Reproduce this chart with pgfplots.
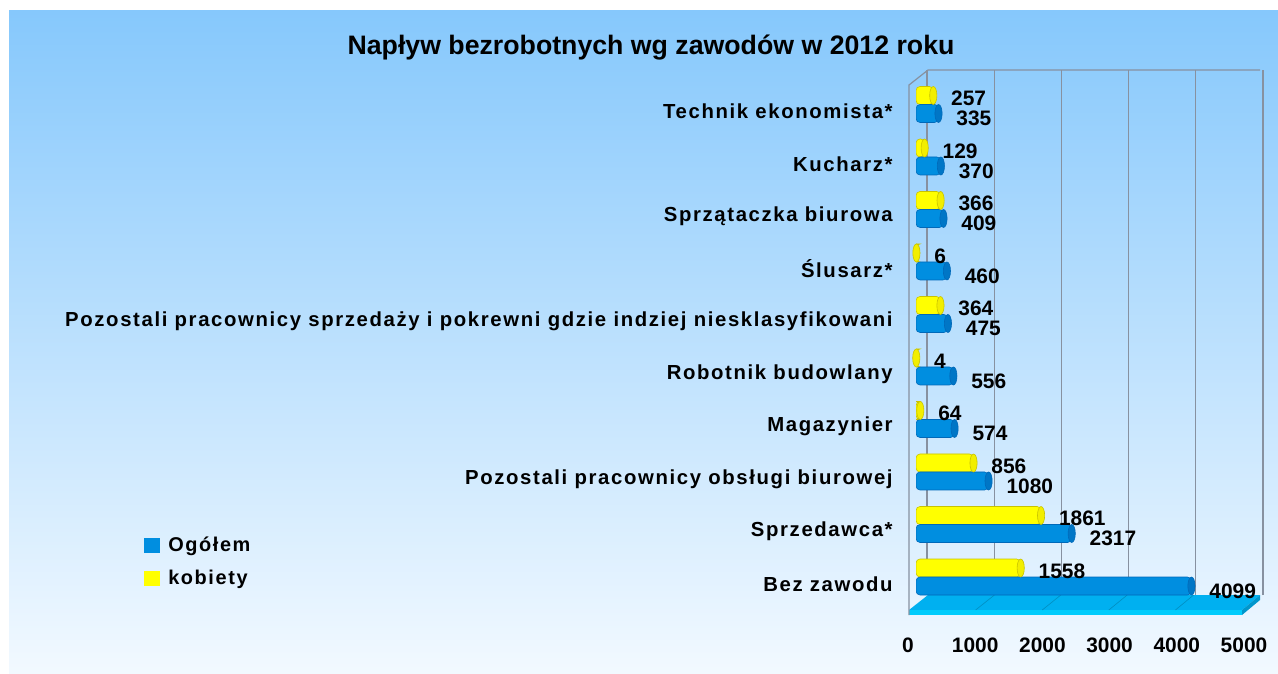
\documentclass[border=0pt]{standalone}
\usepackage{pgfplots}
\pgfplotsset{compat=1.18}
\usepackage{pgfplotstable}
\usepackage{fontspec}
\setmainfont{Liberation Sans}
\newfontfamily\spaced[LetterSpace=8]{Liberation Sans}

\definecolor{bgtop}{RGB}{134,200,252}
\definecolor{bgbot}{RGB}{242,249,255}
\definecolor{barblue}{RGB}{0,142,224}
\definecolor{bluebot}{RGB}{0,105,185}
\definecolor{capblue}{RGB}{0,118,198}
\definecolor{baryellow}{RGB}{255,255,0}
\definecolor{yellowbot}{RGB}{200,195,0}
\definecolor{capyellow}{RGB}{242,238,0}
\definecolor{gridgray}{RGB}{135,145,160}
\definecolor{floortop}{RGB}{0,176,240}
\definecolor{floorfront}{RGB}{0,204,252}

% pozycja 0 = dol wykresu
\pgfplotstableread{
pos ogolem kobiety
0 4099 1558
1 2317 1861
2 1080 856
3 574 64
4 556 4
5 475 364
6 460 6
7 409 366
8 370 129
9 335 257
}\dane

\begin{document}
\begin{tikzpicture}[x=1bp,y=1bp]
\useasboundingbox (0,0) rectangle (639,336.5);
\shade[top color=bgtop, bottom color=bgbot] (4.5,0) rectangle (639,331);

% podloga 3D
\fill[floortop] (454.5,31.5) -- (464,39) -- (630,39) -- (621,31.5) -- cycle;
\fill[floorfront] (454.5,31.5) rectangle (621,29);
\fill[floortop!85!black] (621,31.5) -- (630,39) -- (630,36.5) -- (621,29) -- cycle;
\foreach \k in {1,...,4}
  \draw[floortop!80!black, line width=0.3bp] (454.5+33.3*\k,31.5) -- (464+33.2*\k,39);
\draw[gridgray, line width=0.6bp] (454.5,29) -- (454.5,294) -- (464,301.5) -- (630,301.5);

\node[font=\bfseries\fontsize{13.4}{16}\selectfont] at (325.5,312.5)
  {Napływ bezrobotnych wg zawodów w 2012 roku};

\begin{axis}[
    at={(458bp,39bp)}, anchor=south west,
    width=168bp, height=262.5bp, scale only axis,
    xmin=0, xmax=5000, ymin=-0.343, ymax=9.657,
    axis line style={draw=none}, tick style={draw=none},
    /pgf/number format/.cd, 1000 sep={}, assume math mode=true, /pgfplots/.cd,
    xtick={0,1000,...,5000},
    xmajorgrids, grid style={gridgray, line width=0.6bp, xshift=5.5bp},
    xticklabel style={font=\bfseries\fontsize{10.5}{12}\selectfont,
      anchor=center, inner sep=0pt, xshift=-4bp, yshift=-25bp},
    ytick={0,...,9},
    yticklabels={Bez zawodu, Sprzedawca*, Pozostali pracownicy obsługi biurowej,
      Magazynier, Robotnik budowlany,
      Pozostali pracownicy sprzedaży i pokrewni gdzie indziej niesklasyfikowani,
      Ślusarz*, Sprzątaczka biurowa, Kucharz*, Technik ekonomista*},
    yticklabel style={font=\spaced\bfseries\fontsize{10.2}{12}\selectfont,
      anchor=east, inner sep=0pt, xshift=-11.5bp, yshift=-3.5bp},
    every node near coord/.append style={font=\bfseries\fontsize{10.5}{12}\selectfont,
      anchor=west, xshift=5.5bp, text=black},
    legend image code/.code={\fill[#1, draw=none] (0bp,-3.75bp) rectangle (8bp,3.75bp);},
    legend style={draw=none, fill=none, at={(-2.298,0.12)}, anchor=north west,
      font=\spaced\bfseries\fontsize{10}{12}\selectfont, row sep=4bp, inner sep=0pt,
      cells={anchor=west}, nodes={inner xsep=4bp}},
  ]
  \addlegendimage{fill=barblue}
  \addlegendentry{Ogółem}
  \addlegendimage{fill=baryellow}
  \addlegendentry{kobiety}

  \addplot[forget plot, xbar, bar width=9bp, bar shift=4.5bp,
    draw=yellowbot, line width=0.3bp, rounded corners=2bp, fill=baryellow,
    nodes near coords,
    every node near coord/.append style={yshift=3bp}]
    table[x=kobiety, y=pos] {\dane};
  \addplot[forget plot, only marks, mark=*, mark size=4.5bp,
    mark options={yshift=4.5bp, xscale=0.4, fill=capyellow, draw=yellowbot,
      line width=0.3bp}]
    table[x=kobiety, y=pos] {\dane};

  \addplot[forget plot, xbar, bar width=9bp, bar shift=-4.5bp,
    draw=bluebot, line width=0.3bp, rounded corners=2bp, fill=barblue,
    nodes near coords,
    every node near coord/.append style={yshift=-7bp}]
    table[x=ogolem, y=pos] {\dane};
  \addplot[forget plot, only marks, mark=*, mark size=4.5bp,
    mark options={yshift=-4.5bp, xscale=0.4, fill=capblue, draw=bluebot,
      line width=0.3bp}]
    table[x=ogolem, y=pos] {\dane};
\end{axis}
\end{tikzpicture}
\end{document}
